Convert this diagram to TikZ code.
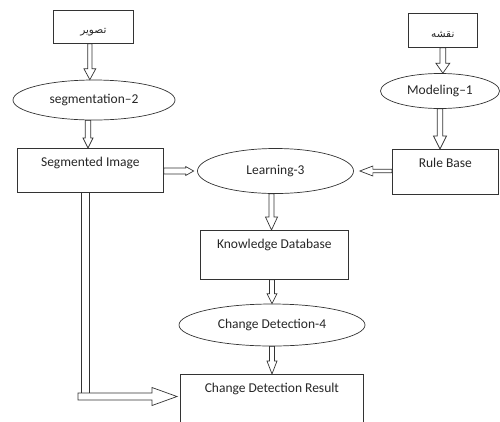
\documentclass[tikz,border=0pt]{standalone}
\usepackage{fontspec}
\setmainfont{Carlito}
\newfontfamily\persianfont[Script=Arabic]{DejaVu Sans}
\TeXXeTstate=1
\usetikzlibrary{calc,shapes.geometric}

\begin{document}
\begin{tikzpicture}[
  x=1pt, y=-1pt,
  every node/.style={font=\fontsize{13.5}{16}\selectfont, text=black!85,
    draw=black!80, line width=0.7pt},
  box/.style={rectangle, anchor=north west, inner sep=3pt, text height=15pt},
  namebox/.style={rectangle, anchor=north west, text height=14pt, text depth=0pt,
    font=\persianfont\fontsize{10.5}{12}\selectfont},
  oval/.style={ellipse, inner sep=0pt},
]
%-------------------------------------------------------------
% Custom colors
\newcommand{\colorline}{black!80}

% hollow block arrow: shaft half width / head half width / head length
\tikzset{hollow/.style args={#1/#2/#3}{draw=\colorline, line width=0.7pt, to path={
  ($(\tikztostart)!#1!90:(\tikztotarget)$)
  -- ($(\tikztotarget)!#3!(\tikztostart)!#1!90:(\tikztotarget)$)
  -- ($(\tikztotarget)!#3!(\tikztostart)!#2!90:(\tikztotarget)$)
  -- (\tikztotarget)
  -- ($(\tikztotarget)!#3!(\tikztostart)!#2!-90:(\tikztotarget)$)
  -- ($(\tikztotarget)!#3!(\tikztostart)!#1!-90:(\tikztotarget)$)
  -- ($(\tikztostart)!#1!-90:(\tikztotarget)$) -- cycle
}}}
\tikzset{hollow/.default=2.5pt/6pt/11pt}

\useasboundingbox (0,0) rectangle (500,421);
\clip (0,0) rectangle (500,421);

%-------------------------------------------------------------
% Main elements
\node[namebox, minimum width=80pt, minimum height=33pt] (pic) at (53,10)
  {\beginR تصویر\endR};
\node[namebox, minimum width=69pt, minimum height=34pt] (map) at (408,13)
  {\beginR نقشه\endR};
\node[oval, minimum width=162pt, minimum height=40pt] (seg) at (94,100) {segmentation–2};
\node[oval, minimum width=119pt, minimum height=35pt] (model) at (440,91) {Modeling–1};
%============================================================
\node[box, minimum width=146pt, text depth=23pt] (img) at (17,148) {Segmented Image};
\node[box, minimum width=106pt, text depth=24pt] (rule) at (392,149) {Rule Base};
\node[oval, minimum width=156pt, minimum height=45pt] (learn) at (275.5,171) {Learning-3};
%============================================================
\node[box, minimum width=148pt, text depth=28pt] (know) at (200,230) {Knowledge Database};
\node[oval, minimum width=186pt, minimum height=42pt] (cd) at (272,325) {Change Detection-4};
\node[box, minimum width=183pt, text depth=45pt] (res) at (180,374) {Change Detection Result};
%============================================================

%---------------------------------------------------
% Block arrows
\draw[hollow=2.2pt/6pt/11pt] ([xshift=-3.5pt]pic.south) to ([xshift=-3.5pt]pic.south |- seg.north);
\draw[hollow=2.8pt/5pt/10pt] ([xshift=-6pt]seg.south) to ([xshift=-6pt]seg.south |- img.north);
\draw[hollow=2.8pt/7pt/10pt] (map.south) to (map.south |- model.north);
\draw[hollow=2.8pt/6.5pt/13pt] (model.south) to (model.south |- rule.north);

\draw[hollow=3pt/4.5pt/8pt] (img.east |- learn.west) to ([xshift=-3.5pt]learn.west);
\draw[hollow=1.8pt/5pt/13pt] (rule.west |- learn.east) to ([xshift=6pt]learn.east);

\draw[hollow=2.5pt/6pt/13pt] ([xshift=-4pt]learn.south) to ([xshift=-4pt]learn.south |- know.north);
\draw[hollow=2.5pt/5pt/10pt] (cd.north |- know.south) to (cd.north);
\draw[hollow=2.5pt/5pt/13pt] (cd.south) to (cd.south |- res.north);

% long link from the segmented image to the result
\coordinate (bend) at (78,396.5);
\coordinate (dropL) at (81,393);
\coordinate (dropR) at (89,393);
\draw[\colorline, line width=0.7pt] (dropL |- img.south) -- (dropL);
\draw[\colorline, line width=0.7pt] (dropR |- img.south) -- (dropR);
\draw[hollow=3.5pt/9pt/25pt] (bend) to ([xshift=-3pt]res.west |- bend);

\end{tikzpicture}
\end{document}
